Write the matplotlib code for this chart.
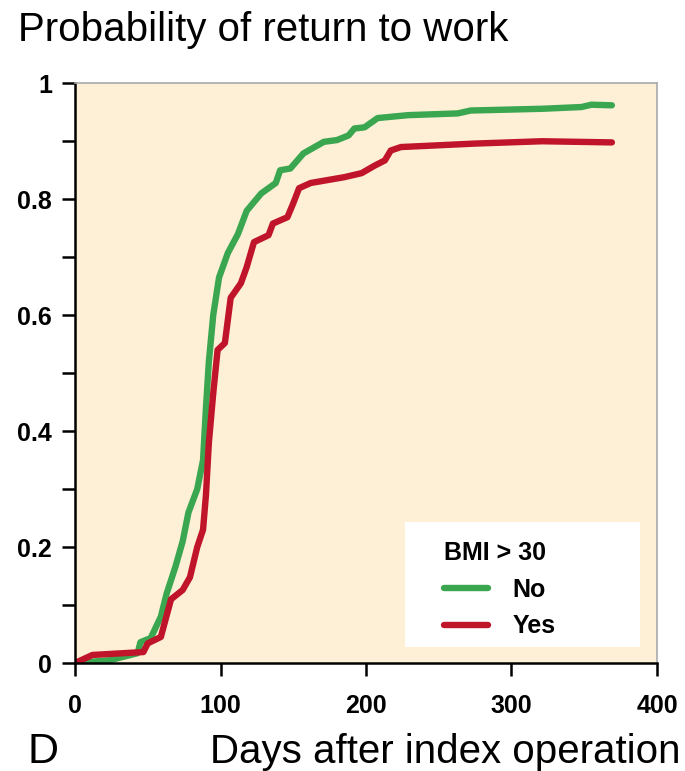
import matplotlib
matplotlib.use("Agg")
from matplotlib import pyplot as plt
from matplotlib.ticker import MultipleLocator
from matplotlib.patches import Rectangle

plt.rcParams['font.family'] = ['Liberation Sans', 'DejaVu Sans']

# Kaplan-Meier style curves
days_no = [0, 24, 43, 45, 52, 59, 63, 69, 74, 78, 84, 88, 90, 92, 95, 99, 105, 112,
           118, 128, 138, 141, 148, 157, 171, 180, 188, 192, 199, 208, 229, 263,
           272, 321, 348, 355, 369]
prob_no = [0, 0.005, 0.017, 0.036, 0.043, 0.08, 0.12, 0.166, 0.21, 0.26, 0.30, 0.35,
           0.44, 0.52, 0.60, 0.665, 0.707, 0.74, 0.78, 0.81, 0.828, 0.85, 0.853,
           0.879, 0.899, 0.902, 0.91, 0.922, 0.924, 0.94, 0.945, 0.948, 0.953,
           0.956, 0.959, 0.963, 0.962]

days_yes = [0, 12, 47, 50, 59, 66, 74, 79, 84, 88, 90, 92, 95, 98, 103, 107, 114, 118,
            123, 133, 136, 146, 150, 154, 162, 185, 197, 206, 213, 217, 224, 275,
            321, 369]
prob_yes = [0, 0.014, 0.019, 0.034, 0.045, 0.11, 0.126, 0.148, 0.2, 0.23, 0.29, 0.38,
            0.465, 0.54, 0.552, 0.63, 0.655, 0.683, 0.726, 0.738, 0.758, 0.769,
            0.793, 0.819, 0.828, 0.838, 0.845, 0.858, 0.867, 0.884, 0.89, 0.896,
            0.9, 0.898]

x_ticks = [0, 100, 200, 300, 400]
y_ticks = [0, 0.2, 0.4, 0.6, 0.8, 1]
y_labels = ['0', '0.2', '0.4', '0.6', '0.8', '1']

green = '#3ba650'
red = '#c0142b'

fig = plt.figure(figsize=(6.85, 7.71), dpi=100)
ax = fig.add_axes([0.1095, 0.140, 0.8496, 0.752])
ax.set_facecolor('#fdf0d6')

ax.plot(days_no, prob_no, color=green, lw=4.6, solid_capstyle='round', label='No')
ax.plot(days_yes, prob_yes, color=red, lw=4.6, solid_capstyle='round', label='Yes')

ax.set_xlim(0, 400)
ax.set_ylim(0, 1)
ax.set_xticks(x_ticks)
ax.set_yticks(y_ticks)
ax.set_yticklabels(y_labels)
ax.yaxis.set_minor_locator(MultipleLocator(0.1))

for s in ['top', 'right']:
    ax.spines[s].set_color('#aaaaaa')
    ax.spines[s].set_linewidth(1.2)
for s in ['left', 'bottom']:
    ax.spines[s].set_color('black')
    ax.spines[s].set_linewidth(1.8)

ax.tick_params(axis='both', which='both', direction='out', width=1.8, length=9.5,
               labelsize=18)
ax.tick_params(axis='y', which='both', pad=7)
ax.tick_params(axis='x', pad=13)
for lab in ax.get_xticklabels() + ax.get_yticklabels():
    lab.set_fontweight('bold')

# white legend panel
ax.add_patch(Rectangle((0.567, 0.028), 0.404, 0.215, transform=ax.transAxes,
                       facecolor='white', edgecolor='none', zorder=3))
leg = ax.legend(title='BMI > 30', loc='upper left', bbox_to_anchor=(0.634, 0.21),
                frameon=False, prop={'size': 18, 'weight': 'bold'},
                title_fontproperties={'size': 18, 'weight': 'bold'},
                handlelength=1.75, borderpad=0, labelspacing=0.5, handletextpad=1.0,
                borderaxespad=0)
leg._legend_box.align = 'left'
leg.set_zorder(4)

fig.text(0.026, 0.961, 'Probability of return to work', fontsize=29, va='center', ha='left')
fig.text(0.040, 0.024, 'D', fontsize=31, va='center', ha='left')
fig.text(0.993, 0.024, 'Days after index operation', fontsize=29, va='center', ha='right')

fig.savefig('out.png', dpi=100)
